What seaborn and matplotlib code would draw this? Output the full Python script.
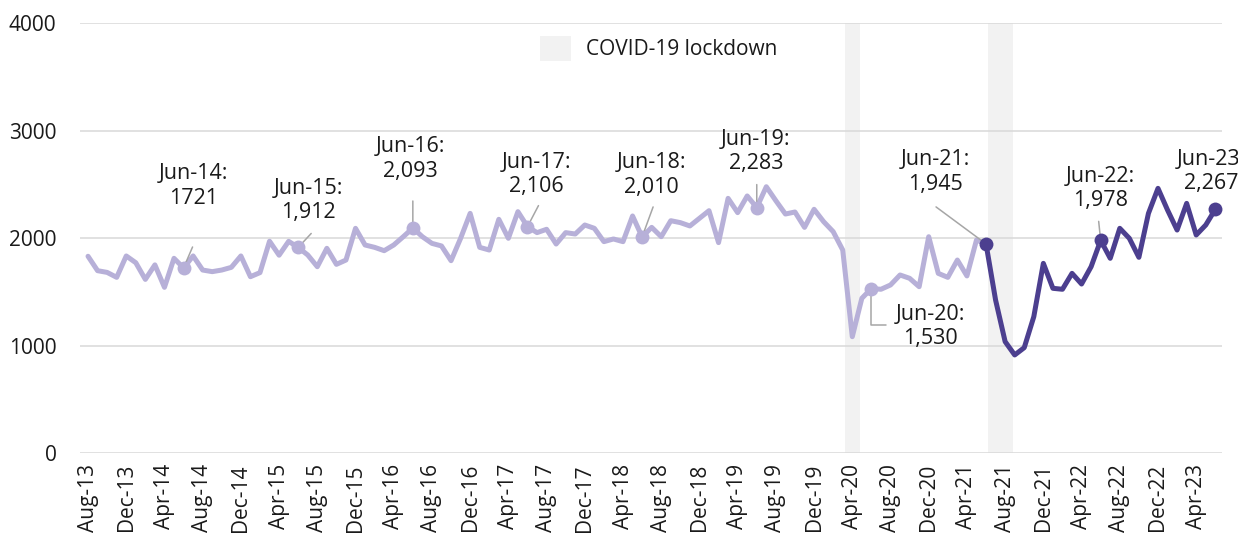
import matplotlib
matplotlib.use('Agg')
import matplotlib.pyplot as plt
from matplotlib.transforms import Bbox, TransformedBbox
import seaborn as sns
import pandas as pd

# monthly values, Aug-13 .. Jun-23
values = [
    1830, 1696, 1680, 1634, 1833, 1770, 1615, 1750, 1541, 1811,
    1721, 1833, 1702, 1687, 1702, 1727, 1833, 1640, 1678, 1970,
    1840, 1969, 1912, 1842, 1733, 1904, 1755, 1795, 2090, 1935,
    1913, 1882, 1935, 2012, 2093, 2012, 1950, 1926, 1789, 1997,
    2229, 1913, 1888, 2174, 1997, 2245, 2106, 2050, 2081, 1944,
    2050, 2037, 2121, 2090, 1966, 1991, 1966, 2205, 2010, 2099,
    2012, 2161, 2143, 2112, 2183, 2254, 1957, 2369, 2236, 2391,
    2283, 2477, 2347, 2223, 2242, 2099, 2267, 2152, 2059, 1888,
    1082, 1439, 1530, 1523, 1563, 1656, 1625, 1547, 2012, 1671,
    1634, 1795, 1647, 1981, 1945, 1423, 1036, 912, 980, 1268,
    1764, 1532, 1523, 1671, 1572, 1733, 1978, 1811, 2090, 1997,
    1820, 2229, 2462, 2260, 2074, 2322, 2028, 2121, 2267,
]
months = pd.date_range('2013-08-01', periods=len(values), freq='MS').strftime('%b-%y').tolist()

split_month = 'Jun-21'
lockdown_months = ['Apr-20', 'Jul-21', 'Aug-21']
callout_months = ['Jun-14', 'Jun-15', 'Jun-16', 'Jun-17', 'Jun-18',
                  'Jun-19', 'Jun-20', 'Jun-21', 'Jun-22', 'Jun-23']
callout_labels = ['1721', '1,912', '2,093', '2,106', '2,010',
                  '2,283', '1,530', '1,945', '1,978', '2,267']
y_ticks = [0, 1000, 2000, 3000, 4000]

# layout (pixels from the marker): text centre, and where the leader line starts
text_offsets = [(10, 82), (10, 47), (-2, 69), (9, 52), (9, 62),
                (-1, 56), (59, -38), (-51, 72), (0, 52), (-4, 38)]
leader_offsets = [(9, 21), (13, 14), (0, 27), (11, 21), (11, 30),
                  (0, 23), (15, -36), (-50, 37), (-2, 19), None]
elbow_month = 'Jun-20'

light = '#B7B0D8'
dark = '#4C3F8F'
text_col = '#1a1a1a'
lead_col = '#A6A6A6'

df = pd.DataFrame({'idx': range(len(values)), 'month': months, 'value': values})
split = months.index(split_month)
old = df.iloc[:split + 1]
new = df.iloc[split:]
marks = df[df['month'].isin(callout_months)]

sns.set_style('white')
plt.rcParams['font.family'] = ['Open Sans', 'DejaVu Sans']

fig = plt.figure(figsize=(12.44, 5.35), dpi=100)
ax = fig.add_axes([80 / 1244, 82 / 535, 1142 / 1244, 430 / 535])

for k, m in enumerate(lockdown_months):
    i = months.index(m)
    ax.axvspan(i - 0.8, i + 0.8, color='#F2F2F2', lw=0, zorder=0,
               label='COVID-19 lockdown' if k == 0 else None)

sns.lineplot(data=old, x='idx', y='value', color=light, lw=3.6, ax=ax, zorder=3)
sns.lineplot(data=new, x='idx', y='value', color=dark, lw=3.6, ax=ax, zorder=4)
sns.scatterplot(data=marks[marks['idx'] < split], x='idx', y='value', color=light,
                s=100, linewidth=0, ax=ax, zorder=5)
sns.scatterplot(data=marks[marks['idx'] >= split], x='idx', y='value', color=dark,
                s=100, linewidth=0, ax=ax, zorder=6)

text_clip = TransformedBbox(Bbox([[0, 0], [1238 / 1244, 1]]), fig.transFigure)
for m, lab, toff, loff in zip(callout_months, callout_labels, text_offsets, leader_offsets):
    i = months.index(m)
    ann = ax.annotate(f'{m}:\n{lab}', xy=(i, values[i]), xytext=toff, textcoords='offset pixels',
                      ha='center', va='center', fontsize=15.5, color=text_col, linespacing=1.2,
                      annotation_clip=False, zorder=7)
    ann.set_clip_box(text_clip)
    ann.set_clip_on(True)
    if loff is None:
        continue
    props = dict(arrowstyle='-', color=lead_col, lw=1.1, shrinkA=0, shrinkB=0)
    if m == elbow_month:
        props['connectionstyle'] = 'angle,angleA=0,angleB=90,rad=0'
    ax.annotate('', xy=(i, values[i]), xytext=loff, textcoords='offset pixels',
                arrowprops=props, annotation_clip=False, zorder=4.5)

ax.set_xlim(-0.84, 118.7)
ax.set_ylim(0, 4000)
ax.set_yticks(y_ticks)
ax.set_yticklabels([str(v) for v in y_ticks])
tick_idx = list(range(0, len(values), 4))
ax.set_xticks(tick_idx)
ax.set_xticklabels([months[i] for i in tick_idx], rotation=90)
ax.tick_params(axis='both', length=0, labelsize=15, colors=text_col)
ax.tick_params(axis='y', pad=17)
ax.tick_params(axis='x', pad=8)
ax.set_xlabel('')
ax.set_ylabel('')
ax.set_axisbelow(True)
ax.yaxis.grid(True, color='#D9D9D9', lw=1.1)
ax.xaxis.grid(False)
for s in ax.spines.values():
    s.set_visible(False)

ax.legend(loc='upper left', bbox_to_anchor=(0.3886, 1.009), frameon=False, fontsize=15,
          handlelength=1.45, handleheight=1.45, handletextpad=0.72, borderpad=0.3,
          labelcolor=text_col)

fig.savefig('out.png', dpi=100)
